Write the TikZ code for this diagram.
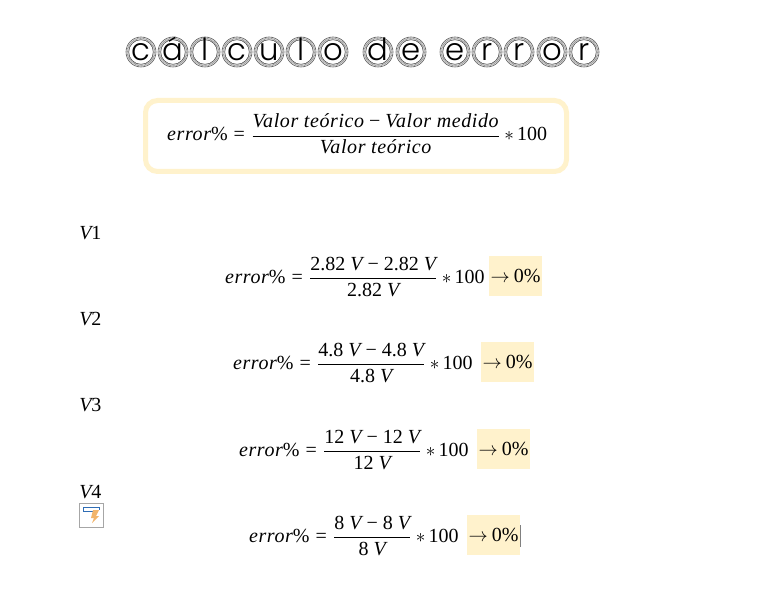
\documentclass[tikz,border=0pt]{standalone}
\usepackage{fontspec}
\setmainfont{Liberation Serif}
\newfontfamily\titlefont{Poppins Light}
\newfontfamily\mi[LetterSpace=3]{Liberation Serif}
\definecolor{paleyellow}{HTML}{FFF2CC}
\definecolor{iconblue}{HTML}{2F6DB5}
\definecolor{iconorange}{HTML}{F2B56B}
\newcommand{\mv}[1]{{\mi\itshape #1}}
\newcommand{\errfrac}[2]{$\displaystyle \mbox{\mv{error}\%\hspace{4.5pt}=\hspace{4.5pt}}\frac{\mbox{#1}}{\mbox{#2}}\mbox{\hspace{3pt}}{*}\mbox{\hspace{2.5pt}100}$}
\newcommand{\res}{$\rightarrow$\hspace{3pt}0\%}
\tikzset{
  x=0.75pt,y=-0.75pt,
  ring/.style={circle,draw=black!65,line width=0.45pt,minimum size=22.5pt,inner sep=0pt},
  halo/.style={draw=gray!75,line width=1.1pt,dash pattern=on 0.7pt off 0.4pt},
  inring/.style={draw=black!75,line width=0.4pt},
  letter/.style={inner sep=0pt,anchor=base,font=\titlefont\fontsize{23}{25}\selectfont},
  eqn/.style={inner sep=0pt,anchor=east,font=\fontsize{15}{18}\selectfont},
  vlabel/.style={inner sep=0pt,anchor=west,font=\fontsize{15}{18}\selectfont},
  resbox/.style={fill=paleyellow,inner sep=0pt,minimum width=39.75pt,minimum height=30pt,font=\fontsize{15}{18}\selectfont},
  frameb/.style={draw=paleyellow,line width=3.75pt,rounded corners=9pt,fill=white}
}
\begin{document}
\begin{tikzpicture}
\useasboundingbox (0,0) rectangle (768,606);
\fill[white] (0,0) rectangle (768,606);
% title
\foreach \n/\px/\ch in {a/141/c,b/173/á,c/205/l,d/237/c,e/269/u,f/301/l,g/333/o,h/378/d,i/411/e,j/455/e,k/487/r,l/519/r,m/552/o,n/584/r}{
  \draw[halo] (\px,52) circle[radius=13.6];
  \node[ring] (t\n) at (\px,52) {};
  \draw[inring] (\px,52) circle[radius=12.3];
  \node[letter] (l\n) at (\px,61) {\ch};
}
% framed formula
\node[frameb,minimum width=315.75pt,minimum height=53.25pt,inner sep=0pt] (frame) at (356,136) {};
\node[eqn] (main) at (547.5,134) {\errfrac{\mv{Valor teórico} − \mv{Valor medido}}{\mv{Valor teórico}}};
% V labels
\node[vlabel] (v1) at (79,233) {\mv{V}1};
\node[vlabel] (v2) at (79,319) {\mv{V}2};
\node[vlabel] (v3) at (79,405) {\mv{V}3};
\node[vlabel] (v4) at (79,492) {\mv{V}4};
% equations
\node[eqn] (e1) at (485,277) {\errfrac{2.82 \mv{V} − 2.82 \mv{V}}{2.82 \mv{V}}};
\node[resbox] (r1) at (515.5,276) {\res};
\node[eqn] (e2) at (473,363) {\errfrac{4.8 \mv{V} − 4.8 \mv{V}}{4.8 \mv{V}}};
\node[resbox] (r2) at (507.5,362) {\res};
\node[eqn] (e3) at (469,450) {\errfrac{12 \mv{V} − 12 \mv{V}}{12 \mv{V}}};
\node[resbox] (r3) at (503.5,449) {\res};
\node[eqn] (e4) at (459,536) {\errfrac{8 \mv{V} − 8 \mv{V}}{8 \mv{V}}};
\node[resbox] (r4) at (493.5,535) {\res};
\coordinate (cursorTop) at (r4.east |- 0,525);
\coordinate (cursorBot) at (r4.east |- 0,547);
\draw[gray,line width=0.6pt] (cursorTop) -- (cursorBot);
% icon
\draw[gray!70,line width=0.6pt,fill=white] (79.5,503.5) rectangle (103.5,527.5);
\draw[iconblue,line width=0.6pt] (94,511.5) -- (83.5,511.5) -- (83.5,507.5) -- (99,507.5) -- (99,510);
\fill[iconorange] (93,510) -- (99,510) -- (96,516) -- (99,516) -- (92,523) -- (94,518) -- (91,518) -- cycle;
\end{tikzpicture}
\end{document}
